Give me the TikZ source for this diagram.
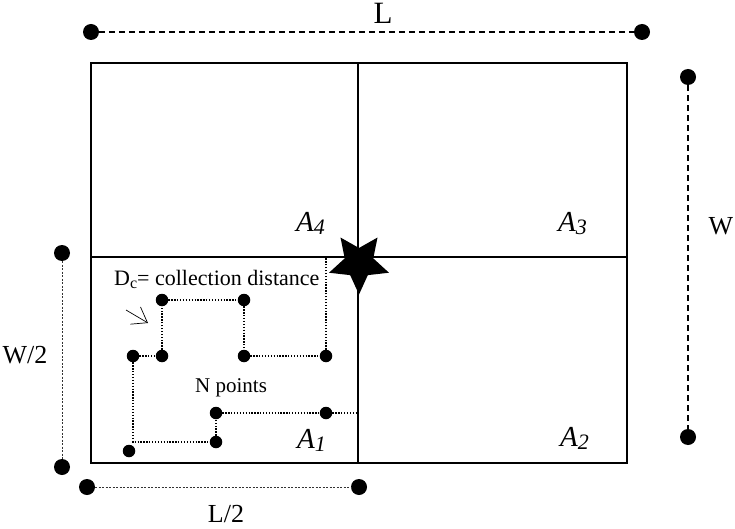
\documentclass[tikz,border=0pt]{standalone}
\usepackage{fontspec}
\setmainfont{Liberation Serif}
\usetikzlibrary{shapes.geometric,arrows.meta}
\begin{document}
\begin{tikzpicture}[x=1pt,y=-1pt,
  bigdot/.style={circle,fill=black,inner sep=0pt,minimum size=16pt},
  smalldot/.style={circle,fill=black,inner sep=0pt,minimum size=12.5pt},
  frameline/.style={line width=1.8pt},
  dimdash/.style={line width=1.4pt,dash pattern=on 6pt off 4pt},
  dimfine/.style={line width=0.6pt,dash pattern=on 2pt off 1.5pt,black!80},
  dotpath/.style={line width=1.7pt,dash pattern=on 1.3pt off 1.6pt},
  biglabel/.style={font=\fontsize{26}{30}\selectfont,inner sep=0pt},
  arealabel/.style={font=\fontsize{29}{33}\selectfont\itshape,inner sep=0pt,anchor=base west},
  smalllabel/.style={font=\fontsize{21}{25}\selectfont,inner sep=0pt,anchor=base west}]
\useasboundingbox (0,0) rectangle (735,529);
% frame
\coordinate (tl) at (91,63);
\coordinate (br) at (627,463);
\coordinate (mt) at (358,63);
\coordinate (mb) at (358,463);
\coordinate (ml) at (91,257);
\coordinate (mr) at (627,257);
\draw[frameline] (tl) rectangle (br);
\draw[frameline] (mt) -- (mb);
\draw[frameline] (ml) -- (mr);
% L dimension
\node[bigdot] (L1) at (91,32) {};
\node[bigdot] (L2) at (642,32) {};
\draw[dimdash] (L1) -- (L2);
\node[biglabel,font=\fontsize{31}{34}\selectfont,anchor=base] (Ltext) at (383,24) {L};
% W dimension
\node[bigdot] (W1) at (688,77) {};
\node[bigdot] (W2) at (688,437) {};
\draw[dimdash] (W1) -- (W2);
\node[biglabel] (Wtext) at (721,226) {W};
% W/2 dimension
\node[bigdot] (H1) at (62,253) {};
\node[bigdot] (H2) at (62,467) {};
\draw[dimfine] (H1) -- (H2);
\node[biglabel] (Htext) at (25,355) {W/2};
% L/2 dimension
\node[bigdot] (K1) at (87,487) {};
\node[bigdot] (K2) at (359,487) {};
\draw[dimfine] (K1) -- (K2);
\node[biglabel] (Ktext) at (226,514) {L/2};
% area labels
\node[arealabel] (A4) at (296,231) {A\raisebox{-0.25ex}{\fontsize{22}{26}\selectfont 4}};
\node[arealabel] (A3) at (558,231) {A\raisebox{-0.25ex}{\fontsize{22}{26}\selectfont 3}};
\node[arealabel] (A1) at (297,448) {A\raisebox{-0.25ex}{\fontsize{22}{26}\selectfont 1}};
\node[arealabel] (A2) at (560,446) {A\raisebox{-0.25ex}{\fontsize{22}{26}\selectfont 2}};
% collection points
\node[smalldot] (p1) at (162,300) {};
\node[smalldot] (p2) at (244,300) {};
\node[smalldot] (p3) at (133,356) {};
\node[smalldot] (p4) at (162,356) {};
\node[smalldot] (p5) at (244,356) {};
\node[smalldot] (p6) at (326,356) {};
\node[smalldot] (p7) at (216,413) {};
\node[smalldot] (p8) at (326,413) {};
\node[smalldot] (p9) at (216,442) {};
\node[smalldot] (p10) at (129,451) {};
\coordinate (c1) at (326,257);
\coordinate (c2) at (358,413);
\draw[dotpath] (p3) -- (p4) -- (p1) -- (p2) -- (p5) -- (p6) -- (c1);
\draw[dotpath] (p3) |- (p9);
\draw[dotpath] (p9) -- (p7) -- (p8) -- (c2);
% texts
\node[smalllabel,font=\fontsize{22}{26}\selectfont] (Dc) at (114,285) {D\raisebox{-0.3ex}{\fontsize{16}{18}\selectfont c}= collection distance};
\node[smalllabel] (Np) at (195,392) {N points};
% arrow
\coordinate (ar1) at (126,310);
\coordinate (ar2) at (148,323);
\draw[line width=0.7pt,-{Straight Barb[length=14pt,width=20pt,line width=0.7pt]}] (ar1) -- (ar2);
% star
\node[star,star points=5,star point ratio=2.1,shape border rotate=180,fill=black,inner sep=0pt,minimum size=63pt] (star) at (359,263) {};
\end{tikzpicture}
\end{document}
